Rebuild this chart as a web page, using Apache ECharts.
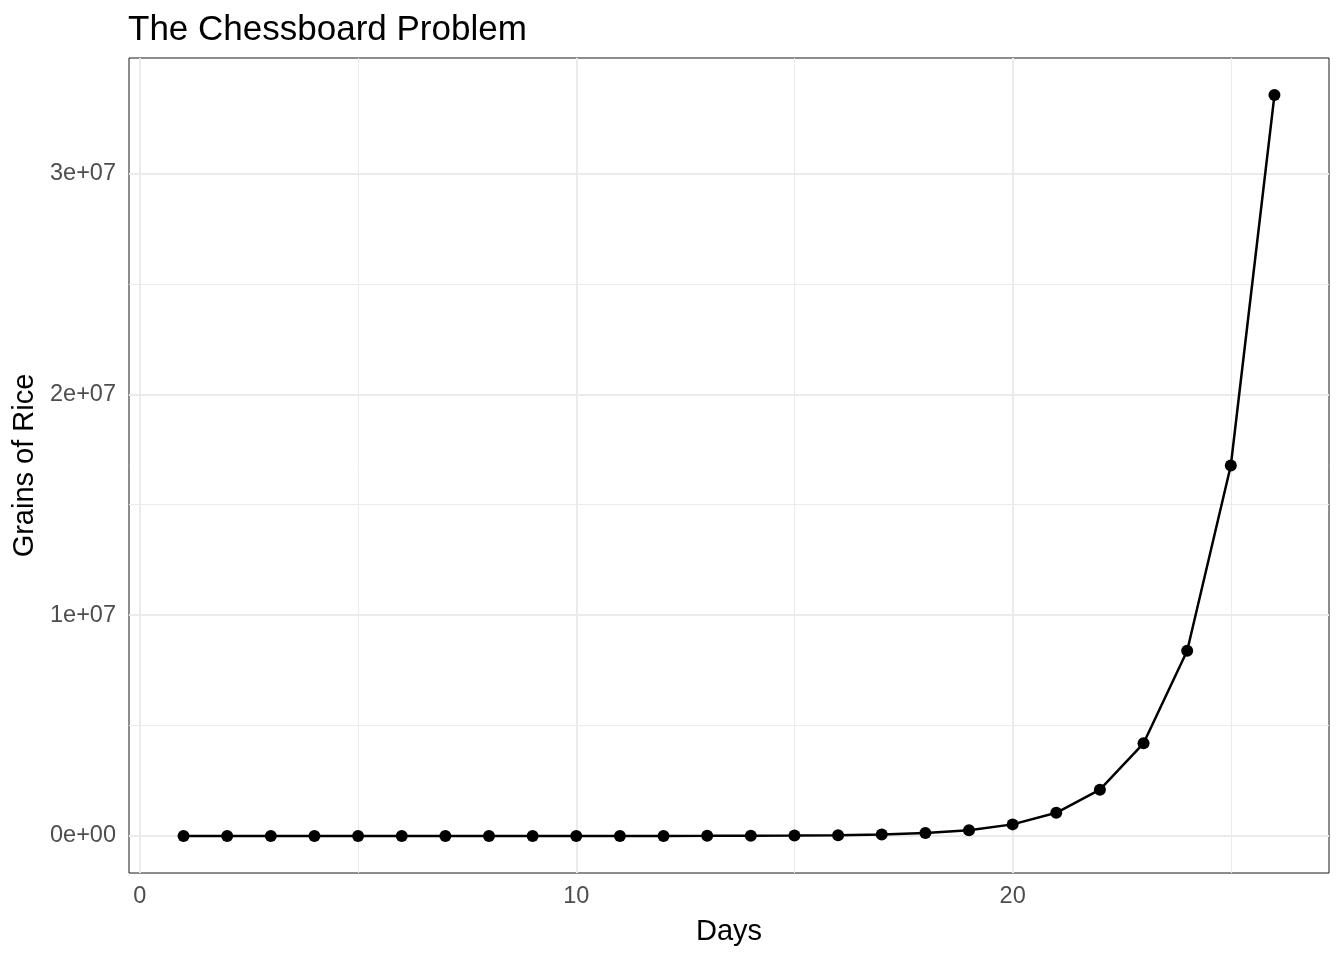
<!DOCTYPE html>
<html><head><meta charset="utf-8">
<script src="https://cdn.jsdelivr.net/npm/echarts@6/dist/echarts.min.js"></script>
<style>html,body{margin:0;padding:0;background:#fff}#c{width:1344px;height:960px}</style>
</head><body><div id="c"></div>
<script>
const days = [1,2,3,4,5,6,7,8,9,10,11,12,13,14,15,16,17,18,19,20,21,22,23,24,25,26];
const grains = [1,2,4,8,16,32,64,128,256,512,1024,2048,4096,8192,16384,32768,65536,131072,262144,524288,1048576,2097152,4194304,8388608,16777216,33554432];
const xMajor = [0,10,20];
const xMinor = [5,15,25];
const yMajor = [0,10000000,20000000,30000000];
const yMinor = [5000000,15000000,25000000];
const yLabels = ['0e+00','1e+07','2e+07','3e+07'];

const chart = echarts.init(document.getElementById('c'));
const FONT = 'Liberation Sans, Arial, Helvetica, sans-serif';
const gl = [];
xMinor.forEach(v=>gl.push({xAxis:v,lineStyle:{color:'#ebebeb',width:1,type:'solid'}}));
yMinor.forEach(v=>gl.push({yAxis:v,lineStyle:{color:'#ebebeb',width:1,type:'solid'}}));
xMajor.forEach(v=>gl.push({xAxis:v,lineStyle:{color:'#ebebeb',width:2,type:'solid'}}));
yMajor.forEach(v=>gl.push({yAxis:v,lineStyle:{color:'#ebebeb',width:2,type:'solid'}}));

chart.setOption({
  animation:false,
  title:{text:'The Chessboard Problem',left:123,top:8,textStyle:{fontFamily:FONT,fontSize:35,fontWeight:'normal',color:'#000'}},
  grid:{left:129,right:15,top:58,bottom:87,show:true,borderColor:'#1a1a1a',borderWidth:1,backgroundColor:'transparent'},
  xAxis:{type:'value',min:-0.25,max:27.25,
    name:'Days',nameLocation:'middle',nameGap:44,nameTextStyle:{fontFamily:FONT,fontSize:29,color:'#000'},
    axisLine:{show:false},splitLine:{show:false},
    axisTick:{show:true,customValues:xMajor,length:7,lineStyle:{color:'#333',width:1.5}},
    axisLabel:{customValues:xMajor,fontFamily:FONT,fontSize:23.5,color:'#4d4d4d',margin:12}},
  yAxis:{type:'value',min:-1677721,max:35232153,
    name:'Grains of Rice',nameLocation:'middle',nameGap:85,nameTextStyle:{fontFamily:FONT,fontSize:29,color:'#000'},
    axisLine:{show:false},splitLine:{show:false},
    axisTick:{show:true,customValues:yMajor,length:7,lineStyle:{color:'#333',width:1.5}},
    axisLabel:{customValues:yMajor,fontFamily:FONT,fontSize:23.5,color:'#4d4d4d',margin:13,
      formatter:v=>{const i=yMajor.indexOf(v);return i>=0?yLabels[i]:'';}}},
  series:[
    {type:'line',data:[],silent:true,z:1,
     markLine:{silent:true,z:1,symbol:'none',label:{show:false},animation:false,data:gl}},
    {type:'line',z:5,data:days.map((d,i)=>[d,grains[i]]),
     lineStyle:{color:'#000',width:2.5},itemStyle:{color:'#000'},
     symbol:'circle',symbolSize:12,showSymbol:true}
  ]
});
</script></body></html>
